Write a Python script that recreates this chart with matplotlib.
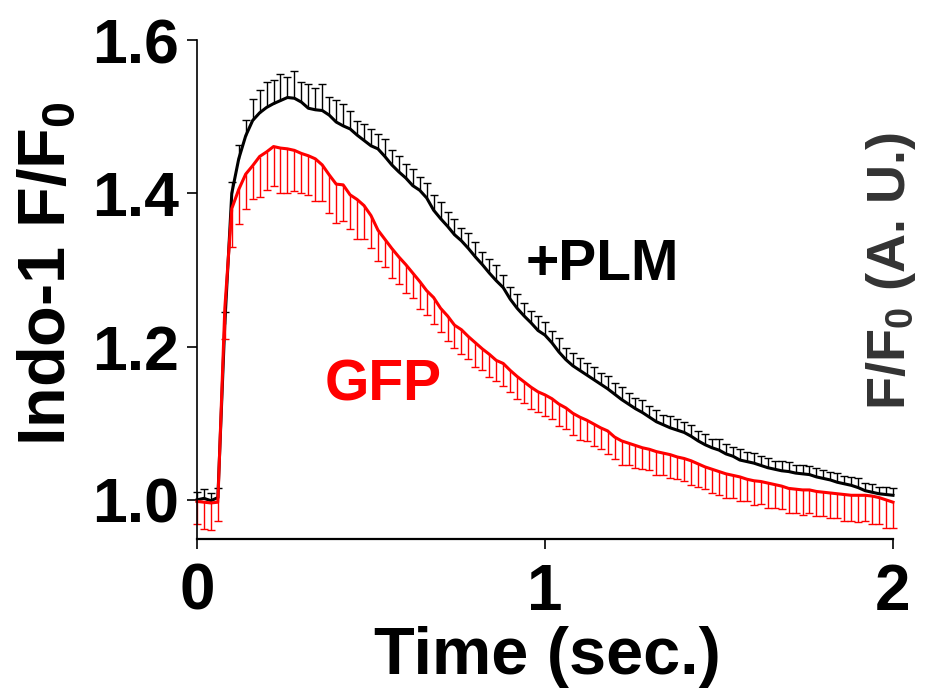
import numpy as np
import matplotlib
matplotlib.use('Agg')
import matplotlib.pyplot as plt

plt.rcParams['font.family'] = 'Liberation Sans'
plt.rcParams['font.weight'] = 'bold'
plt.rcParams['mathtext.fontset'] = 'custom'
plt.rcParams['mathtext.rm'] = 'Liberation Sans:bold'
plt.rcParams['mathtext.it'] = 'Liberation Sans:bold'
plt.rcParams['mathtext.bf'] = 'Liberation Sans:bold'

# sample times (sec.), one point every 20 ms
time = np.round(np.arange(101) * 0.02, 2)

# +PLM mean trace and its (upper) SEM
plm = [1.000, 1.002, 0.999, 1.003, 1.230, 1.400, 1.445, 1.475, 1.495, 1.505,
       1.512, 1.517, 1.521, 1.525, 1.524, 1.519, 1.511, 1.509, 1.508, 1.502,
       1.493, 1.488, 1.484, 1.476, 1.469, 1.462, 1.458, 1.448, 1.437, 1.428,
       1.420, 1.410, 1.404, 1.394, 1.378, 1.367, 1.357, 1.346, 1.338, 1.328,
       1.317, 1.307, 1.296, 1.286, 1.277, 1.262, 1.250, 1.240, 1.231, 1.221,
       1.215, 1.205, 1.193, 1.183, 1.175, 1.169, 1.163, 1.157, 1.151, 1.145,
       1.138, 1.131, 1.125, 1.119, 1.114, 1.108, 1.102, 1.098, 1.094, 1.091,
       1.088, 1.083, 1.077, 1.072, 1.068, 1.065, 1.060, 1.057, 1.052, 1.050,
       1.048, 1.045, 1.042, 1.040, 1.038, 1.037, 1.035, 1.034, 1.033, 1.030,
       1.028, 1.026, 1.023, 1.021, 1.019, 1.016, 1.012, 1.010, 1.008, 1.007,
       1.006]
plm_err = [0.010, 0.012, 0.010, 0.013, 0.015, 0.015, 0.018, 0.020, 0.028, 0.030,
           0.033, 0.031, 0.035, 0.027, 0.035, 0.026, 0.032, 0.029, 0.035, 0.024,
           0.029, 0.028, 0.024, 0.018, 0.022, 0.022, 0.020, 0.023, 0.019, 0.021,
           0.018, 0.022, 0.017, 0.019, 0.020, 0.022, 0.018, 0.020, 0.017, 0.020,
           0.019, 0.016, 0.018, 0.020, 0.017, 0.016, 0.018, 0.017, 0.016, 0.019,
           0.017, 0.016, 0.018, 0.015, 0.017, 0.016, 0.015, 0.017, 0.015, 0.016,
           0.014, 0.016, 0.015, 0.014, 0.016, 0.014, 0.015, 0.013, 0.015, 0.014,
           0.013, 0.015, 0.013, 0.014, 0.012, 0.014, 0.013, 0.012, 0.014, 0.012,
           0.013, 0.012, 0.013, 0.011, 0.013, 0.012, 0.011, 0.012, 0.011, 0.012,
           0.011, 0.010, 0.012, 0.010, 0.011, 0.012, 0.010, 0.011, 0.009, 0.010,
           0.009]

# GFP mean trace and its (lower) SEM
gfp = [0.998, 0.997, 0.996, 0.997, 1.250, 1.380, 1.405, 1.425, 1.436, 1.448,
       1.454, 1.461, 1.459, 1.458, 1.456, 1.452, 1.449, 1.445, 1.437, 1.424,
       1.412, 1.411, 1.398, 1.392, 1.384, 1.371, 1.352, 1.340, 1.328, 1.317,
       1.307, 1.296, 1.285, 1.273, 1.264, 1.250, 1.240, 1.228, 1.222, 1.213,
       1.205, 1.197, 1.190, 1.182, 1.178, 1.169, 1.161, 1.154, 1.147, 1.141,
       1.137, 1.132, 1.125, 1.120, 1.113, 1.108, 1.104, 1.099, 1.094, 1.090,
       1.082, 1.077, 1.074, 1.071, 1.068, 1.066, 1.063, 1.061, 1.059, 1.056,
       1.054, 1.051, 1.047, 1.043, 1.040, 1.037, 1.034, 1.032, 1.030, 1.027,
       1.025, 1.024, 1.022, 1.020, 1.018, 1.015, 1.014, 1.013, 1.013, 1.011,
       1.010, 1.009, 1.008, 1.007, 1.006, 1.006, 1.006, 1.005, 1.003, 1.000,
       0.997]
gfp_err = [0.030, 0.035, 0.035, 0.025, 0.040, 0.050, 0.045, 0.046, 0.043, 0.053,
           0.050, 0.052, 0.059, 0.057, 0.053, 0.052, 0.051, 0.055, 0.047, 0.050,
           0.051, 0.047, 0.044, 0.052, 0.043, 0.043, 0.040, 0.036, 0.038, 0.035,
           0.037, 0.033, 0.036, 0.032, 0.034, 0.031, 0.033, 0.030, 0.032, 0.029,
           0.031, 0.028, 0.030, 0.027, 0.029, 0.028, 0.030, 0.027, 0.029, 0.026,
           0.028, 0.026, 0.029, 0.027, 0.028, 0.030, 0.027, 0.029, 0.028, 0.030,
           0.029, 0.031, 0.029, 0.030, 0.028, 0.027, 0.030, 0.028, 0.031, 0.029,
           0.030, 0.032, 0.030, 0.029, 0.031, 0.030, 0.032, 0.030, 0.031, 0.029,
           0.032, 0.030, 0.033, 0.031, 0.030, 0.032, 0.031, 0.033, 0.030, 0.032,
           0.031, 0.033, 0.032, 0.034, 0.033, 0.035, 0.034, 0.036, 0.035, 0.037,
           0.034]

plm = np.array(plm)
plm_err = np.array(plm_err)
gfp = np.array(gfp)
gfp_err = np.array(gfp_err)
none = np.zeros_like(time)

fig = plt.figure(figsize=(9.3, 6.91), dpi=100)
ax = fig.add_axes([0.2118, 0.22, 0.7484, 0.7221])

# +PLM: error bars point up
ax.errorbar(time, plm, yerr=[none, plm_err], fmt='none', ecolor='black',
            elinewidth=1.0, capsize=0, clip_on=False)
ax.plot(time, plm + plm_err, ls='none', marker='_', ms=6, mew=1.0,
        color='black', clip_on=False)
ax.plot(time, plm, color='black', lw=2.2, clip_on=False)

# GFP: error bars point down
ax.errorbar(time, gfp, yerr=[gfp_err, none], fmt='none', ecolor='red',
            elinewidth=1.0, capsize=0, clip_on=False)
ax.plot(time, gfp - gfp_err, ls='none', marker='_', ms=6, mew=1.0,
        color='red', clip_on=False)
ax.plot(time, gfp, color='red', lw=2.2, clip_on=False)

ax.text(0.945, 1.2865, '+PLM', fontsize=41, fontweight='bold',
        ha='left', va='baseline', color='black')
ax.text(0.368, 1.130, 'GFP', fontsize=41, fontweight='bold',
        ha='left', va='baseline', color='red')

ax.set_xlim(0, 2)
ax.set_ylim(0.949, 1.6)
ax.set_xticks([0, 1, 2])
ax.set_xticklabels(['0', '1', '2'])
ax.set_yticks([1.0, 1.2, 1.4, 1.6])
ax.set_yticklabels(['1.0', '1.2', '1.4', '1.6'])

for s in ['top', 'right']:
    ax.spines[s].set_visible(False)
ax.spines['left'].set_linewidth(1.2)
ax.spines['bottom'].set_linewidth(1.6)
ax.tick_params(axis='both', direction='out', length=7, width=1.2)
ax.tick_params(axis='x', labelsize=46, pad=10)
ax.tick_params(axis='y', labelsize=45, pad=6)
for lab in ax.get_xticklabels() + ax.get_yticklabels():
    lab.set_fontweight('bold')

ax.set_xlabel('Time (sec.)', fontsize=48, fontweight='bold')
ax.xaxis.set_label_coords(0.503, -0.1743)
ax.set_ylabel(r'Indo-1 F/F$_0$', fontsize=48, fontweight='bold')
ax.yaxis.set_label_coords(-0.1695, 0.531)

fig.text(891 / 930, 1 - 271 / 691, r'F/F$_0$ (A. U.)', rotation=90,
         ha='center', va='center', fontsize=39, fontweight='bold',
         color='#333333')

fig.savefig('out.png', dpi=100)
